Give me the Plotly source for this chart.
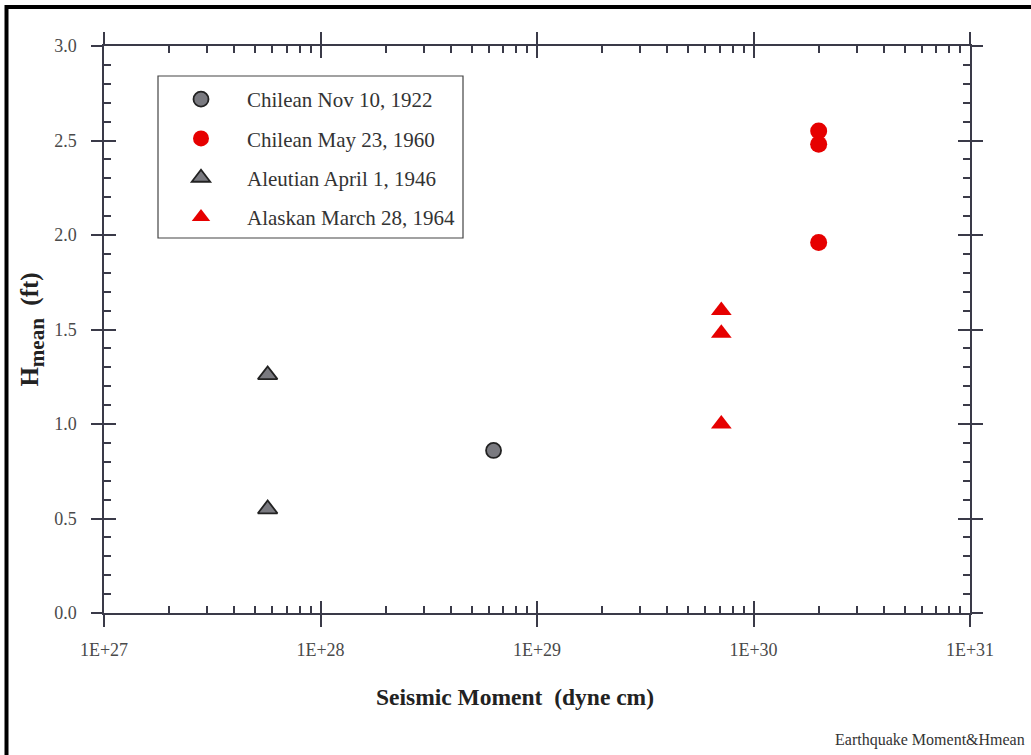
import plotly.graph_objects as go

# ---- data ----
chilean_1922_x = [6.3e28]
chilean_1922_y = [0.86]
chilean_1960_x = [2.0e30, 2.0e30, 2.0e30]
chilean_1960_y = [2.55, 2.48, 1.96]
aleutian_1946_x = [5.7e27, 5.7e27]
aleutian_1946_y = [1.26, 0.55]
alaskan_1964_x = [7.1e29, 7.1e29, 7.1e29]
alaskan_1964_y = [1.60, 1.48, 1.00]

x_tickvals = [1e27, 1e28, 1e29, 1e30, 1e31]
x_ticktext = ["1E+27", "1E+28", "1E+29", "1E+30", "1E+31"]
x_minor = [k * 10.0 ** d for d in range(27, 31) for k in range(2, 10)]
y_tickvals = [0.0, 0.5, 1.0, 1.5, 2.0, 2.5, 3.0]
y_ticktext = ["0.0", "0.5", "1.0", "1.5", "2.0", "2.5", "3.0"]

# ---- layout constants (pixels) ----
W, H = 1031, 755
L, R, T, B = 104, 61, 46, 142
PW, PH = W - L - R, H - T - B


def px_x(p):
    return (p - L) / PW


def px_y(p):
    return (H - B - p) / PH


LINE = "#3a3a48"
SERIF = "Liberation Serif, Times New Roman, serif"
GRAY_FILL = "#7a7a80"
RED = "#e60000"

fig = go.Figure()
fig.add_trace(go.Scatter(
    x=chilean_1922_x, y=chilean_1922_y, mode="markers", name="Chilean Nov 10, 1922",
    legendgroup="a",
    marker=dict(symbol="circle", size=15, color=GRAY_FILL, line=dict(color="#222", width=1.8))))
fig.add_trace(go.Scatter(
    x=chilean_1960_x, y=chilean_1960_y, mode="markers", name="Chilean May 23, 1960",
    legendgroup="b",
    marker=dict(symbol="circle", size=17, color=RED, line=dict(width=0))))
fig.add_trace(go.Scatter(
    x=aleutian_1946_x, y=aleutian_1946_y, mode="markers", name="Aleutian April 1, 1946",
    legendgroup="c",
    marker=dict(symbol="triangle-up", size=17, color=GRAY_FILL, line=dict(color="#222", width=1.8))))
fig.add_trace(go.Scatter(
    x=alaskan_1964_x, y=alaskan_1964_y, mode="markers", name="Alaskan March 28, 1964",
    legendgroup="d",
    marker=dict(symbol="triangle-up", size=18, color=RED, line=dict(width=0))))

tickfont = dict(family=SERIF, size=18, color="#4a4a4a")

fig.update_layout(
    width=W, height=H,
    margin=dict(l=L, r=R, t=T, b=B, autoexpand=False),
    paper_bgcolor="white", plot_bgcolor="white",
    showlegend=True,
    legend=dict(x=px_x(155), y=px_y(79), xanchor="left", yanchor="top",
                bgcolor="rgba(0,0,0,0)", borderwidth=0,
                font=dict(family=SERIF, size=21, color="#333"),
                tracegroupgap=9, itemwidth=82),
    xaxis=dict(type="log", range=[27, 31], tickvals=x_tickvals, ticktext=x_ticktext,
               ticks="inside", ticklen=12, tickwidth=1.5, tickcolor=LINE,
               showline=True, linecolor=LINE, linewidth=1.5, mirror="allticks",
               showgrid=False, zeroline=False, tickfont=tickfont, ticklabelstandoff=20,
               minor=dict(tickvals=x_minor, ticks="inside", ticklen=7, tickwidth=1.5,
                          tickcolor=LINE, showgrid=False),
               automargin=False),
    xaxis2=dict(type="log", range=[27, 31], tickvals=x_tickvals, overlaying="x", anchor="y",
                ticks="outside", ticklen=13, tickwidth=1.5, tickcolor=LINE,
                showline=False, mirror="allticks", showticklabels=False,
                showgrid=False, zeroline=False, automargin=False),
    yaxis=dict(range=[0, 3], tickvals=y_tickvals, ticktext=y_ticktext,
               ticks="inside", ticklen=12, tickwidth=1.5, tickcolor=LINE,
               showline=True, linecolor=LINE, linewidth=1.5, mirror="allticks",
               showgrid=False, zeroline=False, tickfont=tickfont, ticklabelstandoff=22,
               minor=dict(dtick=0.1, ticks="inside", ticklen=7, tickwidth=1.5,
                          tickcolor=LINE, showgrid=False),
               title=dict(text="<b>H<sub><span style='font-size:21px'>mean</span></sub>  (ft)</b>",
                          font=dict(family=SERIF, size=25, color="#222"), standoff=8),
               automargin=False),
    yaxis2=dict(range=[0, 3], tickvals=y_tickvals, overlaying="y", anchor="x", side="left",
                ticks="outside", ticklen=12, tickwidth=1.5, tickcolor=LINE,
                showline=False, mirror="allticks", showticklabels=False,
                showgrid=False, zeroline=False, automargin=False),
    shapes=[
        # legend frame
        dict(type="rect", xref="paper", yref="paper",
             x0=px_x(158), x1=px_x(463), y0=px_y(238), y1=px_y(76),
             line=dict(color="#444", width=1.2), fillcolor="rgba(0,0,0,0)"),
        # outer page frame (left and top edges visible)
        dict(type="rect", xref="paper", yref="paper",
             x0=px_x(6.5), x1=px_x(1100), y0=px_y(800), y1=px_y(7),
             line=dict(color="black", width=4), fillcolor="rgba(0,0,0,0)", layer="above"),
    ],
    annotations=[
        dict(text="<b>Seismic Moment  (dyne cm)</b>", xref="paper", yref="paper",
             x=px_x(515), y=px_y(697), xanchor="center", yanchor="middle", showarrow=False,
             font=dict(family=SERIF, size=23.5, color="#222")),
        dict(text="Earthquake Moment&Hmean", xref="paper", yref="paper",
             x=px_x(833), y=px_y(740), xanchor="left", yanchor="middle", showarrow=False,
             font=dict(family=SERIF, size=16, color="#333")),
    ],
)

# invisible trace so the overlay axes get drawn
fig.add_trace(go.Scatter(x=[1e27], y=[0], xaxis="x2", yaxis="y2", mode="markers",
                         marker=dict(opacity=0), showlegend=False, hoverinfo="skip"))

fig.write_html("out.html", config={"displayModeBar": False},
               post_script="document.body.style.margin='0';")
